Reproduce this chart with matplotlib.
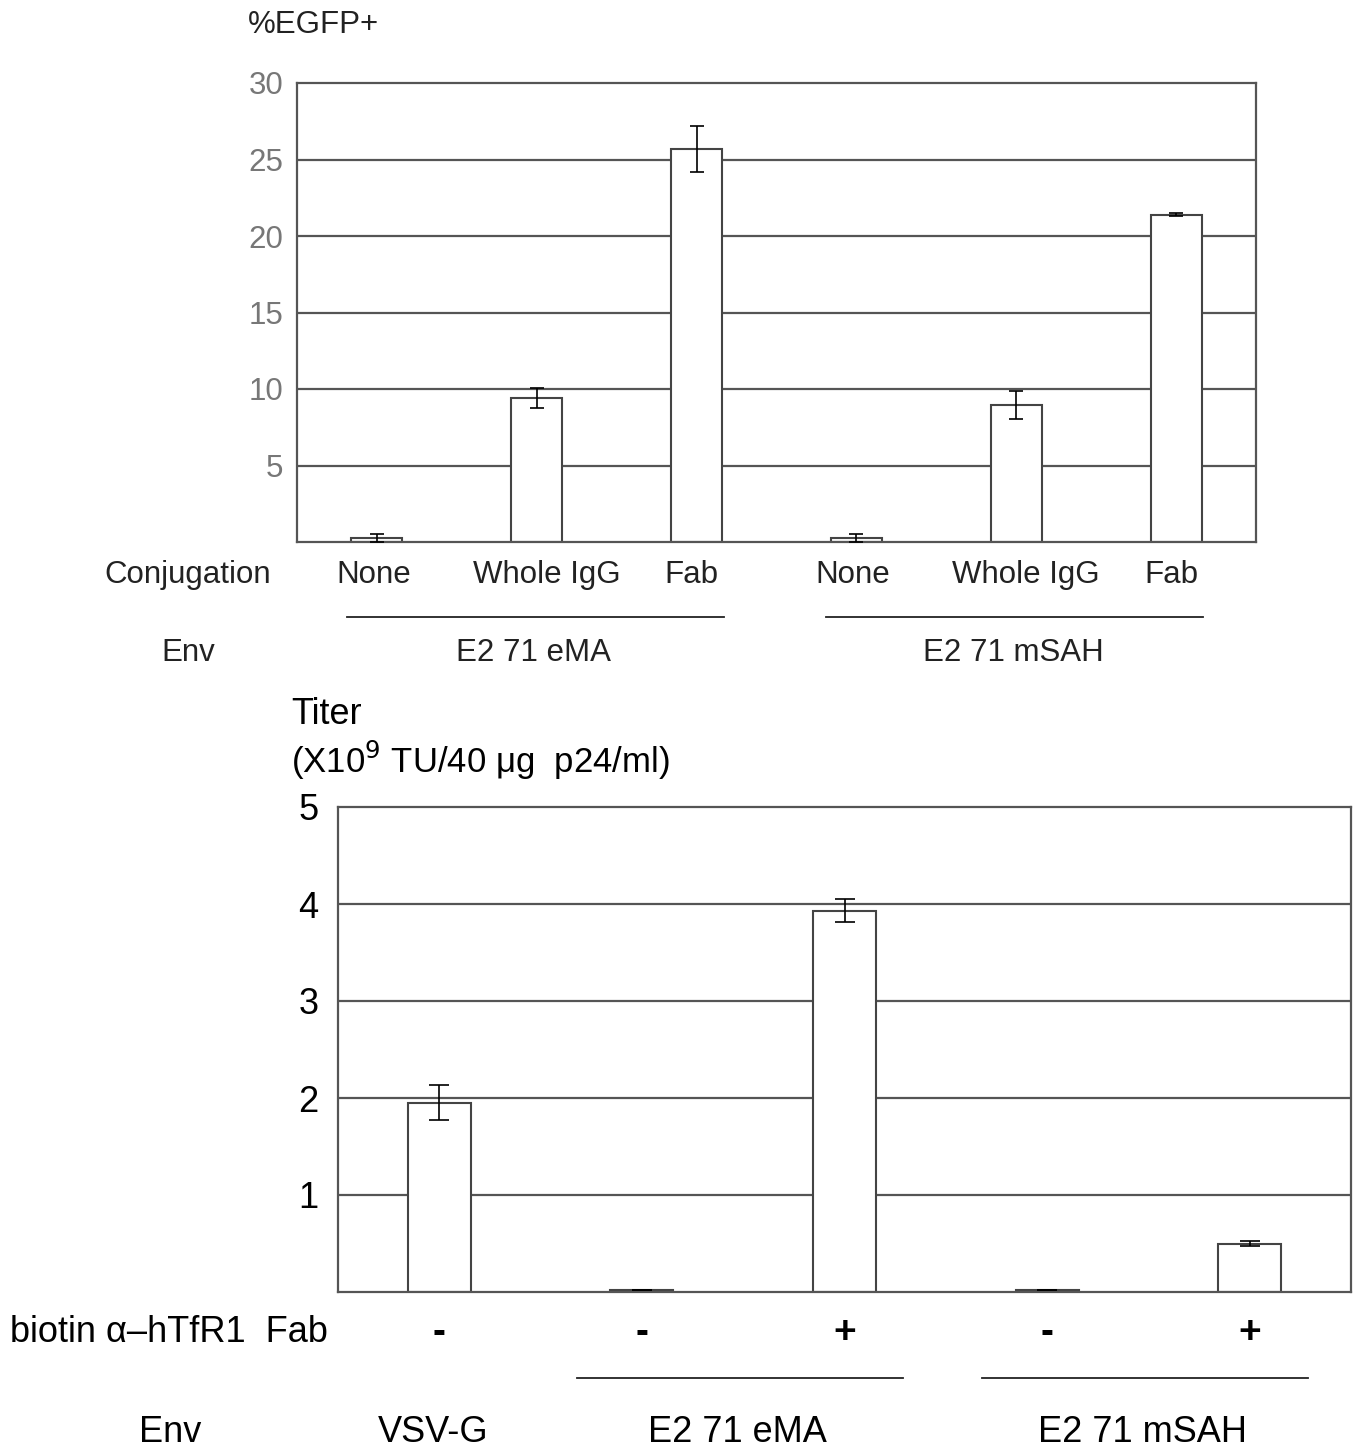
import matplotlib.pyplot as plt
import numpy as np

plt.rcParams['font.family'] = ['Liberation Sans', 'DejaVu Sans']

# top panel data
conj_labels = ['None', 'Whole IgG', 'Fab', 'None', 'Whole IgG', 'Fab']
egfp = [0.27, 9.4, 25.7, 0.27, 8.95, 21.4]
egfp_err = [0.25, 0.65, 1.5, 0.25, 0.9, 0.1]
top_env = ['E2 71 eMA', 'E2 71 mSAH']
top_yticks = [5, 10, 15, 20, 25, 30]

# bottom panel data
fab_signs = ['-', '-', '+', '-', '+']
titer = [1.95, 0.02, 3.93, 0.02, 0.5]
titer_err = [0.18, 0.0, 0.12, 0.0, 0.03]
bottom_env = ['VSV-G', 'E2 71 eMA', 'E2 71 mSAH']
bottom_yticks = [1, 2, 3, 4, 5]

W, H = 1358, 1453
fig = plt.figure(figsize=(W / 100, H / 100), dpi=100, facecolor='white')

edge = '#555555'
FS_TOP = 22.5
FS_BOT = 26

def px_axes(x0, y0, x1, y1):
    return fig.add_axes([x0 / W, 1 - y1 / H, (x1 - x0) / W, (y1 - y0) / H])

def style(ax, ylim, ticks, tcolor, fsize, pad):
    ax.set_ylim(*ylim)
    ax.set_yticks(ticks)
    ax.set_xticks([])
    ax.tick_params(axis='y', length=0, labelsize=fsize, labelcolor=tcolor, pad=pad)
    for s in ax.spines.values():
        s.set_color(edge)
        s.set_linewidth(1.6)
    for t in ticks[:-1]:
        ax.axhline(t, color=edge, lw=1.6, zorder=0)

# ---------- top panel ----------
ax1 = px_axes(297, 83, 1256, 542)
x1 = np.arange(len(egfp))
ax1.bar(x1, egfp, width=0.32, color='white', edgecolor='#444444', linewidth=1.5, zorder=2)
ax1.errorbar(x1, egfp, yerr=egfp_err, fmt='none', ecolor='black', elinewidth=1.2,
             capsize=5, capthick=1.2, zorder=3)
ax1.set_xlim(-0.5, 5.5)
style(ax1, (0, 30), top_yticks, '#777777', FS_TOP, 10)

tr1 = ax1.get_xaxis_transform()
shift = {'None': -0.02, 'Whole IgG': 0.06, 'Fab': -0.03}
for xi, lab in zip(x1, conj_labels):
    ax1.text(xi + shift[lab], -0.072, lab, transform=tr1, ha='center', va='center',
             fontsize=FS_TOP, color='#222222')
for g, name in enumerate(top_env):
    xs = x1[g * 3:(g + 1) * 3]
    ax1.plot([xs[0] - 0.19, xs[-1] + 0.17], [-0.163, -0.163], transform=tr1,
             color='#222222', lw=1.3, clip_on=False)
    ax1.text(xs[1] - 0.02, -0.242, name, transform=tr1, ha='center', va='center',
             fontsize=FS_TOP, color='#222222')

fig.text(188 / W, 1 - 575 / H, 'Conjugation', ha='center', va='center', fontsize=FS_TOP, color='#222222')
fig.text(188 / W, 1 - 653 / H, 'Env', ha='center', va='center', fontsize=FS_TOP, color='#222222')
fig.text(248 / W, 1 - 25 / H, '%EGFP+', ha='left', va='center', fontsize=FS_TOP, color='#222222')

# ---------- bottom panel ----------
ax2 = px_axes(338, 807, 1351, 1292)
x2 = np.arange(len(titer))
ax2.bar(x2, titer, width=0.31, color='white', edgecolor='#444444', linewidth=1.5, zorder=2)
ax2.errorbar(x2, titer, yerr=titer_err, fmt='none', ecolor='black', elinewidth=1.2,
             capsize=7, capthick=1.2, zorder=3)
ax2.set_xlim(-0.5, 4.5)
style(ax2, (0, 5), bottom_yticks, 'black', FS_BOT, 14)

tr2 = ax2.get_xaxis_transform()
for xi, s in zip(x2, fab_signs):
    ax2.text(xi, -0.0845, s, transform=tr2, ha='center', va='center', fontsize=FS_BOT + 2,
             fontweight='bold', color='black')
ax2.text(x2[0] - 0.03, -0.289, bottom_env[0], transform=tr2, ha='center', va='center', fontsize=FS_BOT)
for g, name in enumerate(bottom_env[1:]):
    xs = x2[1 + g * 2:3 + g * 2]
    ax2.plot([xs[0] - 0.32, xs[-1] + 0.29], [-0.177, -0.177], transform=tr2,
             color='#222222', lw=1.3, clip_on=False)
    ax2.text(xs.mean() - 0.03, -0.289, name, transform=tr2, ha='center', va='center', fontsize=FS_BOT)

fig.text(10 / W, 1 - 1333 / H, 'biotin α–hTfR1  Fab', ha='left', va='center', fontsize=FS_BOT)
fig.text(170 / W, 1 - 1432 / H, 'Env', ha='center', va='center', fontsize=FS_BOT)
fig.text(291 / W, 1 - 715 / H, 'Titer', ha='left', va='center', fontsize=FS_BOT)
fig.text(291 / W, 1 - 760 / H, '(X10$^{9}$ TU/40 μg  p24/ml)', ha='left', va='center', fontsize=FS_BOT - 1)

fig.savefig('out.png', dpi=100, facecolor='white')
